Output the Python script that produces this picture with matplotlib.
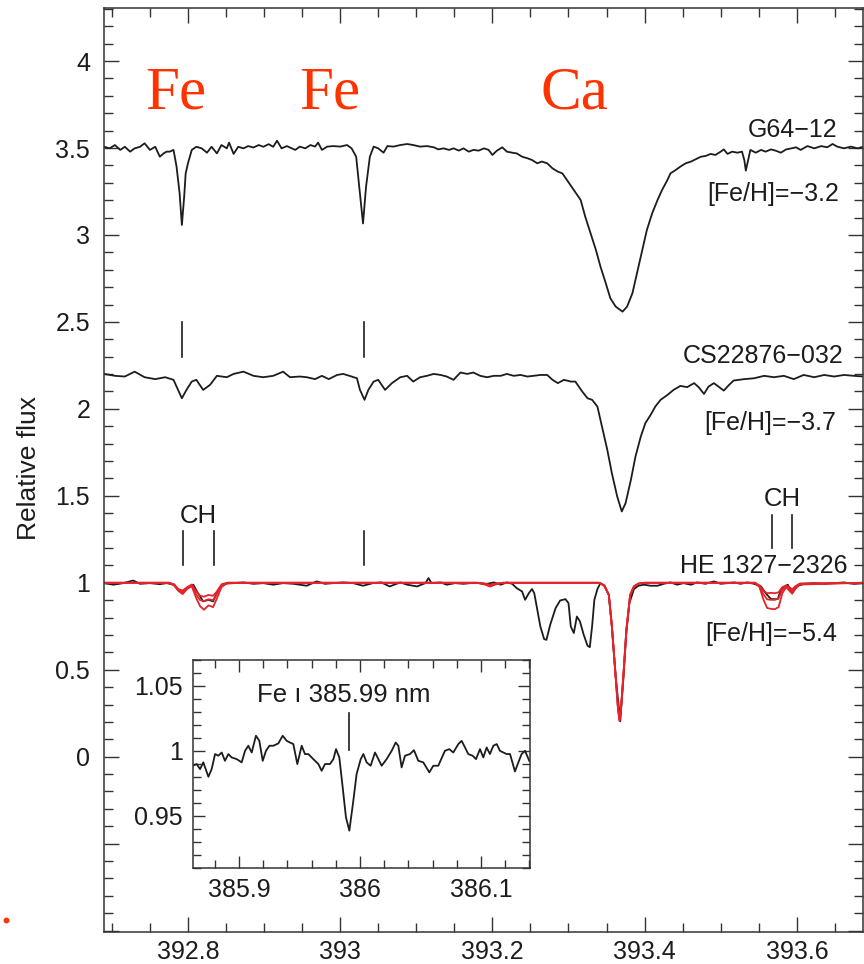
import matplotlib
matplotlib.use("Agg")
import matplotlib.pyplot as plt
from matplotlib.ticker import MultipleLocator, FuncFormatter
from matplotlib.lines import Line2D

plt.rcParams['font.family'] = ['Liberation Sans', 'DejaVu Sans']

# ---------------- data ----------------
# G64-12, offset spectrum
g64_wl = [392.690, 392.697, 392.704, 392.711, 392.717, 392.724, 392.730, 392.737, 392.743, 392.750,
          392.757, 392.763, 392.768, 392.772, 392.776, 392.781, 392.785, 392.789, 392.792, 392.795,
          392.797, 392.800, 392.805, 392.811, 392.818, 392.825, 392.831, 392.838, 392.844, 392.851,
          392.854, 392.860, 392.866, 392.873, 392.879, 392.886, 392.893, 392.899, 392.906, 392.912,
          392.917, 392.923, 392.930, 392.941, 392.947, 392.954, 392.961, 392.967, 392.971, 392.976,
          392.983, 392.991, 393.000, 393.009, 393.015, 393.021, 393.025, 393.030, 393.034, 393.039,
          393.044, 393.050, 393.057, 393.062, 393.070, 393.079, 393.088, 393.096, 393.105, 393.114,
          393.123, 393.129, 393.136, 393.143, 393.149, 393.156, 393.162, 393.169, 393.175, 393.182,
          393.189, 393.195, 393.200, 393.206, 393.213, 393.219, 393.226, 393.232, 393.239, 393.246,
          393.252, 393.259, 393.265, 393.272, 393.279, 393.286, 393.292, 393.298, 393.307, 393.316,
          393.322, 393.329, 393.336, 393.342, 393.349, 393.355, 393.362, 393.371, 393.377, 393.384,
          393.390, 393.397, 393.403, 393.410, 393.417, 393.423, 393.430, 393.434, 393.441, 393.447,
          393.454, 393.461, 393.467, 393.474, 393.480, 393.487, 393.493, 393.500, 393.504, 393.509,
          393.515, 393.522, 393.528, 393.531, 393.533, 393.536, 393.539, 393.546, 393.553, 393.559,
          393.566, 393.572, 393.579, 393.586, 393.593, 393.599, 393.605, 393.614, 393.623, 393.632,
          393.640, 393.647, 393.653, 393.662, 393.671, 393.680, 393.688]
g64_flux = [3.507, 3.498, 3.517, 3.489, 3.507, 3.479, 3.498, 3.507, 3.527, 3.489,
            3.507, 3.450, 3.469, 3.479, 3.479, 3.489, 3.393, 3.240, 3.057, 3.220,
            3.354, 3.412, 3.489, 3.507, 3.498, 3.473, 3.507, 3.469, 3.517, 3.498,
            3.531, 3.466, 3.507, 3.498, 3.511, 3.503, 3.517, 3.507, 3.522, 3.507,
            3.542, 3.498, 3.511, 3.489, 3.508, 3.498, 3.517, 3.508, 3.531, 3.489,
            3.508, 3.511, 3.508, 3.517, 3.498, 3.450, 3.278, 3.066, 3.278, 3.450,
            3.508, 3.498, 3.473, 3.511, 3.508, 3.517, 3.523, 3.517, 3.508, 3.511,
            3.504, 3.492, 3.498, 3.489, 3.498, 3.485, 3.498, 3.479, 3.489, 3.485,
            3.498, 3.489, 3.460, 3.485, 3.504, 3.479, 3.473, 3.469, 3.450, 3.441,
            3.431, 3.412, 3.422, 3.412, 3.383, 3.364, 3.354, 3.316, 3.259, 3.201,
            3.105, 3.010, 2.914, 2.818, 2.722, 2.636, 2.588, 2.559, 2.588, 2.665,
            2.780, 2.914, 3.029, 3.125, 3.201, 3.259, 3.316, 3.354, 3.374, 3.393,
            3.412, 3.422, 3.435, 3.450, 3.454, 3.466, 3.460, 3.479, 3.492, 3.466,
            3.479, 3.473, 3.479, 3.431, 3.370, 3.431, 3.489, 3.473, 3.489, 3.479,
            3.492, 3.485, 3.473, 3.492, 3.498, 3.504, 3.489, 3.511, 3.498, 3.511,
            3.504, 3.523, 3.508, 3.498, 3.508, 3.498, 3.508]

# CS22876-032, offset spectrum
cs_wl = [392.690, 392.704, 392.717, 392.730, 392.743, 392.757, 392.770, 392.781, 392.787, 392.792,
         392.798, 392.805, 392.811, 392.820, 392.829, 392.838, 392.851, 392.860, 392.873, 392.886,
         392.899, 392.912, 392.925, 392.934, 392.947, 392.956, 392.967, 392.976, 392.985, 392.996,
         393.004, 393.015, 393.022, 393.026, 393.032, 393.037, 393.044, 393.050, 393.059, 393.068,
         393.079, 393.088, 393.096, 393.105, 393.114, 393.123, 393.132, 393.140, 393.149, 393.158,
         393.167, 393.175, 393.184, 393.193, 393.202, 393.211, 393.219, 393.228, 393.237, 393.246,
         393.254, 393.263, 393.272, 393.279, 393.286, 393.294, 393.303, 393.309, 393.318, 393.325,
         393.331, 393.338, 393.344, 393.351, 393.357, 393.364, 393.370, 393.375, 393.382, 393.388,
         393.395, 393.401, 393.408, 393.414, 393.421, 393.430, 393.438, 393.447, 393.456, 393.465,
         393.471, 393.478, 393.484, 393.491, 393.498, 393.504, 393.511, 393.517, 393.531, 393.544,
         393.557, 393.570, 393.583, 393.596, 393.609, 393.623, 393.636, 393.649, 393.662, 393.675,
         393.688]
cs_flux = [2.201, 2.190, 2.186, 2.214, 2.182, 2.171, 2.182, 2.167, 2.109, 2.061,
           2.109, 2.157, 2.167, 2.109, 2.138, 2.190, 2.182, 2.201, 2.214, 2.190,
           2.182, 2.190, 2.214, 2.182, 2.186, 2.182, 2.171, 2.190, 2.171, 2.195,
           2.201, 2.186, 2.176, 2.109, 2.052, 2.109, 2.157, 2.167, 2.109, 2.148,
           2.182, 2.190, 2.157, 2.182, 2.190, 2.201, 2.195, 2.186, 2.167, 2.209,
           2.201, 2.209, 2.190, 2.182, 2.190, 2.190, 2.201, 2.190, 2.195, 2.186,
           2.190, 2.195, 2.195, 2.167, 2.148, 2.167, 2.157, 2.157, 2.100, 2.061,
           2.052, 2.013, 1.898, 1.764, 1.630, 1.496, 1.410, 1.458, 1.592, 1.726,
           1.841, 1.918, 1.966, 2.013, 2.052, 2.080, 2.109, 2.132, 2.125, 2.148,
           2.125, 2.086, 2.128, 2.148, 2.125, 2.105, 2.138, 2.163, 2.171, 2.176,
           2.190, 2.182, 2.190, 2.171, 2.195, 2.182, 2.195, 2.186, 2.195, 2.190,
           2.186]

# HE 1327-2326, observed
he_wl = [392.690, 392.702, 392.715, 392.728, 392.737, 392.750, 392.763, 392.772, 392.781, 392.787,
         392.793, 392.800, 392.807, 392.813, 392.820, 392.827, 392.833, 392.840, 392.846, 392.860,
         392.873, 392.886, 392.899, 392.912, 392.925, 392.939, 392.956, 392.969, 392.980, 392.991,
         393.004, 393.017, 393.030, 393.043, 393.054, 393.065, 393.079, 393.088, 393.101, 393.112,
         393.116, 393.120, 393.132, 393.140, 393.151, 393.162, 393.171, 393.182, 393.193, 393.202,
         393.211, 393.219, 393.226, 393.232, 393.239, 393.243, 393.248, 393.252, 393.255, 393.259,
         393.263, 393.268, 393.271, 393.276, 393.283, 393.289, 393.296, 393.300, 393.303, 393.307,
         393.311, 393.315, 393.320, 393.325, 393.328, 393.331, 393.334, 393.338, 393.342, 393.347,
         393.353, 393.357, 393.362, 393.368, 393.372, 393.376, 393.380, 393.386, 393.392, 393.399,
         393.408, 393.417, 393.425, 393.434, 393.443, 393.451, 393.461, 393.469, 393.480, 393.491,
         393.500, 393.509, 393.518, 393.526, 393.535, 393.544, 393.553, 393.559, 393.566, 393.575,
         393.579, 393.588, 393.594, 393.601, 393.610, 393.623, 393.636, 393.649, 393.662, 393.675,
         393.688]
he_flux = [0.998, 0.989, 0.998, 1.013, 0.994, 0.998, 0.992, 0.998, 0.989, 0.960,
           0.941, 0.975, 0.989, 0.941, 0.893, 0.902, 0.893, 0.960, 0.994, 0.998,
           1.002, 0.994, 0.998, 0.989, 0.998, 0.994, 0.983, 1.008, 0.994, 0.998,
           1.002, 0.998, 0.983, 0.998, 1.002, 0.979, 1.002, 0.989, 0.979, 0.998,
           1.027, 0.998, 1.002, 0.989, 0.998, 0.994, 0.998, 0.998, 0.994, 1.002,
           0.989, 1.002, 0.994, 0.969, 0.950, 0.902, 0.941, 0.964, 0.941, 0.845,
           0.749, 0.676, 0.672, 0.759, 0.854, 0.898, 0.906, 0.883, 0.749, 0.711,
           0.806, 0.778, 0.701, 0.638, 0.630, 0.749, 0.902, 0.964, 0.998, 0.983,
           0.931, 0.749, 0.462, 0.203, 0.443, 0.711, 0.883, 0.964, 0.983, 0.989,
           0.983, 0.983, 0.994, 1.002, 0.989, 0.998, 0.989, 1.002, 0.994, 1.008,
           0.994, 0.998, 1.002, 0.994, 1.002, 0.994, 0.979, 0.941, 0.906, 0.906,
           0.960, 0.989, 0.944, 0.983, 0.994, 0.998, 0.994, 0.998, 1.002, 0.994,
           0.998]

# HE 1327-2326, synthetic spectra (three C/N abundances)
model_wl = [392.690, 392.775, 392.782, 392.787, 392.793, 392.799, 392.805, 392.811, 392.816, 392.821,
            392.827, 392.833, 392.838, 392.844, 392.852, 393.180, 393.190, 393.197, 393.204, 393.214,
            393.340, 393.347, 393.353, 393.357, 393.362, 393.365, 393.367, 393.369, 393.372, 393.376,
            393.381, 393.386, 393.392, 393.400, 393.545, 393.551, 393.556, 393.561, 393.566, 393.571,
            393.576, 393.581, 393.586, 393.590, 393.594, 393.598, 393.604, 393.688]
model_weak = [1.000, 1.000, 0.990, 0.965, 0.955, 0.975, 0.990, 0.950, 0.925, 0.920,
              0.930, 0.925, 0.950, 0.990, 1.000, 1.000, 0.995, 0.988, 0.995, 1.000,
              1.000, 0.985, 0.930, 0.750, 0.460, 0.285, 0.215, 0.285, 0.460, 0.730,
              0.930, 0.980, 0.995, 1.000, 1.000, 0.985, 0.955, 0.940, 0.942, 0.940,
              0.945, 0.975, 0.985, 0.975, 0.962, 0.980, 0.995, 1.000]
model_mid = [1.000, 1.000, 0.990, 0.960, 0.945, 0.970, 0.985, 0.930, 0.900, 0.895,
             0.905, 0.900, 0.935, 0.985, 1.000, 1.000, 0.993, 0.984, 0.993, 1.000,
             1.000, 0.985, 0.930, 0.750, 0.458, 0.280, 0.210, 0.280, 0.458, 0.728,
             0.930, 0.980, 0.995, 1.000, 1.000, 0.980, 0.935, 0.905, 0.902, 0.902,
             0.910, 0.960, 0.980, 0.965, 0.950, 0.975, 0.995, 1.000]
model_strong = [1.000, 1.000, 0.985, 0.955, 0.935, 0.965, 0.980, 0.910, 0.865, 0.845,
                0.870, 0.860, 0.910, 0.975, 1.000, 1.000, 0.990, 0.978, 0.990, 1.000,
                1.000, 0.985, 0.930, 0.748, 0.455, 0.275, 0.205, 0.275, 0.455, 0.725,
                0.928, 0.978, 0.995, 1.000, 1.000, 0.975, 0.905, 0.855, 0.850, 0.848,
                0.860, 0.940, 0.975, 0.955, 0.937, 0.965, 0.990, 1.000]

# inset: HE 1327-2326 around Fe I 385.99 nm
inset_wl = [385.8617, 385.8650, 385.8678, 385.8705, 385.8747, 385.8774, 385.8802, 385.8829, 385.8857, 385.8884,
            385.8912, 385.8939, 385.8981, 385.9022, 385.9050, 385.9077, 385.9105, 385.9140, 385.9168, 385.9196,
            385.9223, 385.9251, 385.9284, 385.9325, 385.9361, 385.9394, 385.9421, 385.9449, 385.9482, 385.9518,
            385.9545, 385.9573, 385.9614, 385.9656, 385.9683, 385.9711, 385.9752, 385.9780, 385.9802, 385.9829,
            385.9857, 385.9884, 385.9912, 385.9945, 385.9972, 386.0006, 386.0028, 386.0055, 386.0088, 386.0124,
            386.0152, 386.0179, 386.0220, 386.0262, 386.0295, 386.0317, 386.0344, 386.0372, 386.0413, 386.0446,
            386.0482, 386.0523, 386.0573, 386.0606, 386.0647, 386.0702, 386.0738, 386.0771, 386.0813, 386.0840,
            386.0868, 386.0895, 386.0931, 386.0959, 386.0992, 386.1019, 386.1047, 386.1074, 386.1102, 386.1130,
            386.1157, 386.1185, 386.1212, 386.1240, 386.1281, 386.1309, 386.1336, 386.1364, 386.1399]
inset_flux = [0.9885, 0.9898, 0.9859, 0.9911, 0.9800, 0.9859, 0.9975, 0.9962, 0.9987, 0.9923,
              0.9975, 0.9949, 0.9936, 0.9911, 1.0000, 1.0039, 0.9987, 1.0116, 1.0077, 0.9923,
              1.0000, 1.0039, 1.0039, 1.0057, 1.0116, 1.0077, 1.0064, 1.0052, 0.9898, 1.0039,
              0.9975, 0.9975, 0.9936, 0.9898, 0.9846, 0.9898, 0.9898, 0.9936, 1.0013, 0.9949,
              0.9718, 0.9487, 0.9385, 0.9616, 0.9821, 0.9936, 0.9975, 0.9911, 0.9885, 0.9987,
              0.9936, 0.9885, 0.9936, 1.0000, 1.0064, 1.0039, 0.9872, 0.9962, 0.9975, 1.0005,
              0.9923, 0.9911, 0.9834, 0.9885, 0.9885, 1.0000, 1.0013, 0.9987, 1.0052, 1.0077,
              1.0026, 0.9975, 0.9962, 0.9936, 1.0013, 0.9949, 1.0026, 0.9975, 1.0039, 1.0052,
              1.0000, 0.9987, 0.9975, 0.9975, 0.9841, 0.9911, 0.9975, 1.0000, 0.9923]

# labels
star_names = ["G64\u221212", "CS22876\u2212032", "HE 1327\u22122326"]
star_feh = ["[Fe/H]=\u22123.2", "[Fe/H]=\u22123.7", "[Fe/H]=\u22125.4"]
big_labels = ["Fe", "Fe", "Ca"]
big_label_wl = [392.784, 392.986, 393.308]
fe_line_wl = [392.792, 393.031]
ch_left_wl = [392.793, 392.834]
ch_right_wl = [393.567, 393.594]
inset_line_wl = 385.991

# ---------------- figure ----------------
ink = "#1c1c1c"
red = "#e3242b"
label_red = "#ff3300"

fig = plt.figure(figsize=(8.64, 9.64), dpi=100)
ax = fig.add_axes([0.1204, 0.0332, 0.879, 0.9585])

ax.plot(g64_wl, g64_flux, color=ink, lw=1.3)
ax.plot(cs_wl, cs_flux, color=ink, lw=1.3)
ax.plot(he_wl, he_flux, color=ink, lw=1.3)
for m in (model_weak, model_mid, model_strong):
    ax.plot(model_wl, m, color=red, lw=1.3)

ax.set_xlim(392.6897, 393.6876)
ax.set_ylim(-1.008, 4.305)

# line markers
for w in fe_line_wl:
    ax.plot([w, w], [2.30, 2.50], color=ink, lw=1.2)
ax.plot([fe_line_wl[1]] * 2, [1.10, 1.295], color=ink, lw=1.2)
for w in ch_left_wl:
    ax.plot([w, w], [1.10, 1.295], color=ink, lw=1.2)
for w in ch_right_wl:
    ax.plot([w, w], [1.20, 1.39], color=ink, lw=1.2)
ax.text((ch_left_wl[0] + ch_left_wl[1]) / 2, 1.343, "CH",
        ha="center", va="baseline", fontsize=18.5, color=ink)
ax.text((ch_right_wl[0] + ch_right_wl[1]) / 2, 1.44, "CH",
        ha="center", va="baseline", fontsize=18.5, color=ink)

# star labels
name_pos = [(393.653, 3.563), (393.662, 2.262), (393.667, 1.057)]
feh_pos = [(393.655, 3.195), (393.652, 1.879), (393.653, 0.663)]
for name, (x, y) in zip(star_names, name_pos):
    ax.text(x, y, name, ha="right", va="baseline", fontsize=18, color=ink)
for feh, (x, y) in zip(star_feh, feh_pos):
    ax.text(x, y, feh, ha="right", va="baseline", fontsize=18, color=ink)

# big red element labels
for lab, w in zip(big_labels, big_label_wl):
    ax.text(w, 3.73, lab, ha="center", va="baseline", fontsize=44,
            family="Liberation Serif", color=label_red)

# axes styling
ax.xaxis.set_major_locator(MultipleLocator(0.2))
ax.xaxis.set_minor_locator(MultipleLocator(0.05))
ax.yaxis.set_major_locator(MultipleLocator(0.5))
ax.yaxis.set_minor_locator(MultipleLocator(0.1))
ax.xaxis.set_major_formatter(FuncFormatter(lambda v, p: f"{v:g}"))
ax.yaxis.set_major_formatter(FuncFormatter(lambda v, p: "" if v < -1e-9 else f"{v:g}"))
ax.tick_params(which="both", direction="in", top=True, right=True, color="#333333",
               width=1.0, labelsize=18, labelcolor=ink)
ax.tick_params(which="major", length=10.5)
ax.tick_params(which="minor", length=6.5)
ax.tick_params(axis="y", pad=10)
ax.tick_params(axis="x", pad=6)
for s in ax.spines.values():
    s.set_linewidth(1.1)
    s.set_color("#333333")

fig.text(0.0336, 0.515, "Relative flux", rotation=90, ha="center", va="center",
         fontsize=19, color=ink)

# inset
axi = fig.add_axes([0.2230, 0.0993, 0.3904, 0.2161])
axi.plot(inset_wl, inset_flux, color=ink, lw=1.3)
axi.set_xlim(385.8617, 386.1405)
axi.set_ylim(0.9095, 1.070)
axi.plot([inset_line_wl] * 2, [1.0005, 1.0295], color=ink, lw=1.2)
axi.text(385.9865, 1.0375, "Fe \u0131 385.99 nm", ha="center", va="baseline",
         fontsize=18.5, color=ink)
axi.xaxis.set_major_locator(MultipleLocator(0.1))
axi.xaxis.set_minor_locator(MultipleLocator(0.02))
axi.yaxis.set_major_locator(MultipleLocator(0.05))
axi.yaxis.set_minor_locator(MultipleLocator(0.01))
axi.xaxis.set_major_formatter(FuncFormatter(lambda v, p: f"{v:g}"))
axi.yaxis.set_major_formatter(FuncFormatter(lambda v, p: f"{v:g}"))
axi.tick_params(which="both", direction="in", top=True, right=True, color="#333333",
                width=1.0, labelsize=18, labelcolor=ink, pad=7)
axi.tick_params(which="major", length=8.5)
axi.tick_params(which="minor", length=5.5)
for s in axi.spines.values():
    s.set_linewidth(1.1)
    s.set_color("#333333")

# stray red dot at lower left of the original page
fig.add_artist(Line2D([0.007], [0.0456], marker="o", markersize=3.2, color=label_red,
                      transform=fig.transFigure))

fig.savefig("out.png", dpi=100)
